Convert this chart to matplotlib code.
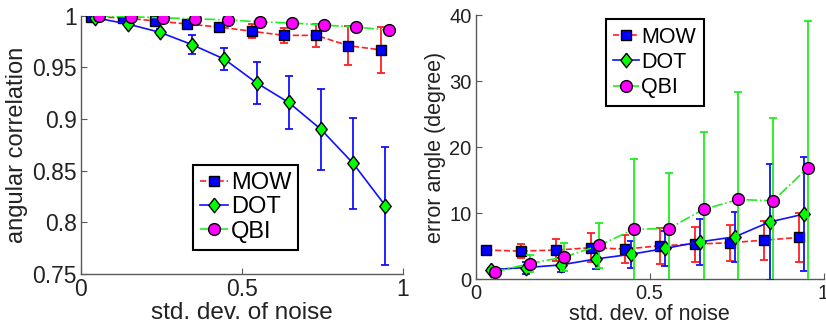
import matplotlib.pyplot as plt

plt.rcParams['font.family'] = ['Liberation Sans', 'DejaVu Sans']

# noise levels (each method is shifted a little sideways)
x_mow = [0.03, 0.13, 0.23, 0.33, 0.43, 0.53, 0.63, 0.73, 0.83, 0.93]
x_dot = [0.045, 0.145, 0.245, 0.345, 0.445, 0.545, 0.645, 0.745, 0.845, 0.945]
x_qbi = [0.055, 0.155, 0.255, 0.355, 0.455, 0.555, 0.655, 0.755, 0.855, 0.955]

# left panel: angular correlation
ac_mow = [0.999, 0.998, 0.995, 0.992, 0.989, 0.985, 0.981, 0.981, 0.971, 0.967]
ac_mow_err = [0.0005, 0.001, 0.002, 0.003, 0.004, 0.007, 0.007, 0.011, 0.019, 0.022]
ac_dot = [0.998, 0.992, 0.984, 0.972, 0.958, 0.935, 0.916, 0.890, 0.857, 0.816]
ac_dot_err = [0.0005, 0.001, 0.003, 0.009, 0.011, 0.020, 0.026, 0.039, 0.044, 0.057]
ac_qbi = [0.9997, 0.999, 0.998, 0.997, 0.996, 0.994, 0.993, 0.991, 0.989, 0.986]
ac_qbi_err = [0.0003, 0.0005, 0.0005, 0.001, 0.001, 0.001, 0.001, 0.001, 0.001, 0.001]

# right panel: error angle (degree)
ea_mow = [4.44, 4.3, 4.44, 4.8, 4.6, 5.1, 5.35, 5.55, 5.95, 6.36]
ea_mow_err = [0.2, 1.05, 1.65, 2.2, 2.1, 2.7, 2.65, 2.75, 2.95, 3.65]
ea_dot = [1.5, 1.8, 2.2, 3.1, 3.8, 4.7, 5.7, 6.45, 8.7, 9.9]
ea_dot_err = [0.2, 0.9, 1.0, 1.55, 2.0, 2.65, 3.45, 3.8, 8.8, 8.6]
ea_qbi = [1.15, 2.4, 3.4, 5.15, 7.6, 7.7, 10.6, 12.1, 11.9, 16.9]
ea_qbi_err = [0.2, 1.3, 2.1, 3.45, 10.6, 8.4, 11.7, 16.2, 12.6, 22.2]

methods = ['MOW', 'DOT', 'QBI']
line_col = ['#ff2020', '#1010ff', '#20ee20']
face_col = ['#0000ff', '#00ff00', '#ff00ff']
styles = ['--', '-', '-.']
# diamond a bit taller than wide, like the matlab one
diamond = [(0, 1), (0.78, 0), (0, -1), (-0.78, 0), (0, 1)]
markers = ['s', diamond, 'o']
msizes = [7.5, 10.5, 8.5]

fig = plt.figure(figsize=(8.26, 3.28), dpi=100)
ax1 = fig.add_axes([0.098, 0.165, 0.390, 0.787])
ax2 = fig.add_axes([0.576, 0.148, 0.421, 0.806])


def draw(ax, xs, ys, errs, fs):
    for i in range(3):
        ax.errorbar(xs[i], ys[i], yerr=errs[i], fmt='none', ecolor=line_col[i],
                    elinewidth=1.3, capsize=3, capthick=1.3, zorder=2 + i)
        ax.plot(xs[i], ys[i], linestyle=styles[i], color=line_col[i], lw=1.2,
                marker=markers[i], ms=msizes[i], mfc=face_col[i], mec='black',
                mew=1.0, label=methods[i], zorder=2 + i)
    ax.set_xlim(0, 1)
    ax.set_xticks([0, 0.5, 1])
    ax.set_xticklabels(['0', '0.5', '1'])
    for s in ['top', 'right']:
        ax.spines[s].set_visible(False)
    for s in ['left', 'bottom']:
        ax.spines[s].set_color('0.35')
        ax.spines[s].set_linewidth(1.0)
    ax.tick_params(direction='in', length=4, color='0.35', labelsize=fs,
                   labelcolor='#222222', pad=3)
    ax.set_xlabel('std. dev. of noise', fontsize=fs + 1, color='#222222', labelpad=1)


draw(ax1, [x_mow, x_dot, x_qbi], [ac_mow, ac_dot, ac_qbi],
     [ac_mow_err, ac_dot_err, ac_qbi_err], 16.5)
ax1.set_ylim(0.75, 1)
ax1.set_yticks([0.75, 0.8, 0.85, 0.9, 0.95, 1])
ax1.set_yticklabels(['0.75', '0.8', '0.85', '0.9', '0.95', '1'])
ax1.set_ylabel('angular correlation', fontsize=17, color='#222222', labelpad=3)
leg1 = ax1.legend(loc='upper left', bbox_to_anchor=(0.348, 0.422), borderaxespad=0,
                  fontsize=17, handlelength=1.2, handletextpad=0.1, numpoints=1,
                  fancybox=False, framealpha=1, edgecolor='black', labelspacing=0.1,
                  borderpad=0.3)
leg1.get_frame().set_linewidth(1.5)

draw(ax2, [x_mow, x_dot, x_qbi], [ea_mow, ea_dot, ea_qbi],
     [ea_mow_err, ea_dot_err, ea_qbi_err], 14.5)
ax2.set_ylim(0, 40)
ax2.set_yticks([0, 10, 20, 30, 40])
ax2.set_ylabel('error angle (degree)', fontsize=15.5, color='#222222', labelpad=2)
leg2 = ax2.legend(loc='upper left', bbox_to_anchor=(0.374, 0.985), borderaxespad=0,
                  fontsize=15.5, handlelength=1.2, handletextpad=0.1, numpoints=1,
                  fancybox=False, framealpha=1, edgecolor='black', labelspacing=0.2,
                  borderpad=0.35)
leg2.get_frame().set_linewidth(1.5)

fig.savefig('out.png', dpi=100)
